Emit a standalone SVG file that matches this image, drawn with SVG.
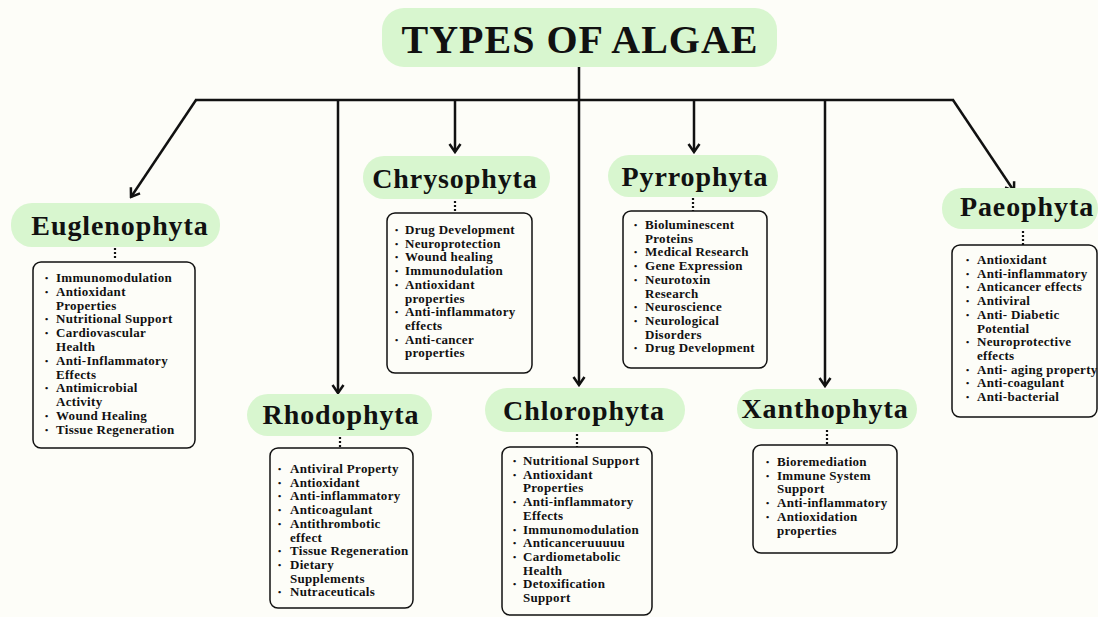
<svg xmlns="http://www.w3.org/2000/svg" width="1098" height="617" viewBox="0 0 1098 617">
<style>
.pill{fill:#d8f6cf;}
.ttl{font-family:"Liberation Serif",serif;font-weight:bold;font-size:40px;letter-spacing:1px;fill:#111;text-anchor:middle;}
.nm{font-family:"Liberation Serif",serif;font-weight:bold;font-size:28px;letter-spacing:0.9px;fill:#111;text-anchor:middle;}
.li{font-family:"Liberation Serif",serif;font-weight:bold;font-size:13px;letter-spacing:0.3px;fill:#111;}
.bu{font-family:"Liberation Serif",serif;font-weight:bold;font-size:9px;fill:#111;}
.box{fill:#fdfdf8;stroke:#111;stroke-width:1.5;}
.dots{stroke:#111;stroke-width:2.2;stroke-dasharray:2 2;fill:none;}
.ln{stroke:#111;stroke-width:2.5;fill:none;}
.ar{stroke:#111;stroke-width:2.5;fill:none;marker-end:url(#arr);}
</style>
<defs>
<marker id="arr" markerUnits="userSpaceOnUse" viewBox="-10 -7 12 14" markerWidth="12" markerHeight="14" refX="0" refY="0" orient="auto">
<path d="M-8,-5.5 L0,0 L-8,5.5" fill="none" stroke="#111" stroke-width="2.5"/>
</marker>
</defs>
<rect width="1098" height="617" fill="#fdfdf8"/>

<g id="connectors">
<line class="ln" x1="195" y1="100" x2="954" y2="100"/>
<line class="ar" x1="579" y1="66" x2="579" y2="385"/>
<line class="ar" x1="196" y1="100" x2="131" y2="197"/>
<line class="ar" x1="338" y1="100" x2="338" y2="393"/>
<line class="ar" x1="455" y1="100" x2="455" y2="152"/>
<line class="ar" x1="694" y1="100" x2="694" y2="152"/>
<line class="ar" x1="825" y1="100" x2="825" y2="386"/>
<line class="ar" x1="953" y1="100" x2="1014" y2="191"/>
</g>

<g id="title">
<rect class="pill" x="382" y="8" width="395" height="59" rx="22"/>
<text class="ttl" x="580" y="53">TYPES OF ALGAE</text>
</g>

<g id="euglenophyta">
<rect class="pill" x="11" y="203" width="209" height="44" rx="21"/>
<text class="nm" x="120" y="235">Euglenophyta</text>
<line class="dots" x1="115" y1="248" x2="115" y2="260"/>
<rect class="box" x="33" y="262" width="162" height="186" rx="8"/>
<text class="bu"><tspan x="45" y="281">•</tspan><tspan x="45" y="294.8">•</tspan><tspan x="45" y="322.4">•</tspan><tspan x="45" y="336.2">•</tspan><tspan x="45" y="363.8">•</tspan><tspan x="45" y="391.4">•</tspan><tspan x="45" y="419">•</tspan><tspan x="45" y="432.8">•</tspan></text>
<text class="li"><tspan x="56" y="282">Immunomodulation</tspan><tspan x="56" y="295.8">Antioxidant</tspan><tspan x="56" y="309.6">Properties</tspan><tspan x="56" y="323.4">Nutritional Support</tspan><tspan x="56" y="337.2">Cardiovascular</tspan><tspan x="56" y="351">Health</tspan><tspan x="56" y="364.8">Anti-Inflammatory</tspan><tspan x="56" y="378.6">Effects</tspan><tspan x="56" y="392.4">Antimicrobial</tspan><tspan x="56" y="406.2">Activity</tspan><tspan x="56" y="420">Wound Healing</tspan><tspan x="56" y="433.8">Tissue Regeneration</tspan></text>
</g>

<g id="chrysophyta">
<rect class="pill" x="363" y="156" width="187" height="43" rx="21"/>
<text class="nm" x="455" y="188">Chrysophyta</text>
<line class="dots" x1="455" y1="201" x2="455" y2="213"/>
<rect class="box" x="387" y="213" width="145" height="160" rx="8"/>
<text class="bu"><tspan x="395" y="233">•</tspan><tspan x="395" y="246.7">•</tspan><tspan x="395" y="260.4">•</tspan><tspan x="395" y="274.1">•</tspan><tspan x="395" y="287.8">•</tspan><tspan x="395" y="315.2">•</tspan><tspan x="395" y="342.6">•</tspan></text>
<text class="li"><tspan x="405" y="234">Drug Development</tspan><tspan x="405" y="247.7">Neuroprotection</tspan><tspan x="405" y="261.4">Wound healing</tspan><tspan x="405" y="275.1">Immunodulation</tspan><tspan x="405" y="288.8">Antioxidant</tspan><tspan x="405" y="302.5">properties</tspan><tspan x="405" y="316.2">Anti-inflammatory</tspan><tspan x="405" y="329.9">effects</tspan><tspan x="405" y="343.6">Anti-cancer</tspan><tspan x="405" y="357.3">properties</tspan></text>
</g>

<g id="pyrrophyta">
<rect class="pill" x="608" y="155" width="170" height="42" rx="21"/>
<text class="nm" x="695" y="186">Pyrrophyta</text>
<line class="dots" x1="693" y1="198" x2="693" y2="211"/>
<rect class="box" x="623" y="211" width="144" height="157" rx="8"/>
<text class="bu"><tspan x="634" y="228">•</tspan><tspan x="634" y="255.4">•</tspan><tspan x="634" y="269.1">•</tspan><tspan x="634" y="282.8">•</tspan><tspan x="634" y="310.2">•</tspan><tspan x="634" y="323.9">•</tspan><tspan x="634" y="351.3">•</tspan></text>
<text class="li"><tspan x="645" y="229">Bioluminescent</tspan><tspan x="645" y="242.7">Proteins</tspan><tspan x="645" y="256.4">Medical Research</tspan><tspan x="645" y="270.1">Gene Expression</tspan><tspan x="645" y="283.8">Neurotoxin</tspan><tspan x="645" y="297.5">Research</tspan><tspan x="645" y="311.2">Neuroscience</tspan><tspan x="645" y="324.9">Neurological</tspan><tspan x="645" y="338.6">Disorders</tspan><tspan x="645" y="352.3">Drug Development</tspan></text>
</g>

<g id="paeophyta">
<rect class="pill" x="942" y="188" width="156" height="41" rx="20"/>
<text class="nm" x="1027" y="216">Paeophyta</text>
<line class="dots" x1="1023" y1="231" x2="1023" y2="245"/>
<rect class="box" x="952" y="245" width="145" height="172" rx="8"/>
<text class="bu"><tspan x="966" y="263">•</tspan><tspan x="966" y="276.7">•</tspan><tspan x="966" y="290.4">•</tspan><tspan x="966" y="304.1">•</tspan><tspan x="966" y="317.8">•</tspan><tspan x="966" y="345.2">•</tspan><tspan x="966" y="372.6">•</tspan><tspan x="966" y="386.3">•</tspan><tspan x="966" y="400">•</tspan></text>
<text class="li"><tspan x="977" y="264">Antioxidant</tspan><tspan x="977" y="277.7">Anti-inflammatory</tspan><tspan x="977" y="291.4">Anticancer effects</tspan><tspan x="977" y="305.1">Antiviral</tspan><tspan x="977" y="318.8">Anti- Diabetic</tspan><tspan x="977" y="332.5">Potential</tspan><tspan x="977" y="346.2">Neuroprotective</tspan><tspan x="977" y="359.9">effects</tspan><tspan x="977" y="373.6">Anti- aging property</tspan><tspan x="977" y="387.3">Anti-coagulant</tspan><tspan x="977" y="401">Anti-bacterial</tspan></text>
</g>

<g id="rhodophyta">
<rect class="pill" x="247" y="394" width="185" height="42" rx="21"/>
<text class="nm" x="341" y="424">Rhodophyta</text>
<line class="dots" x1="340" y1="437" x2="340" y2="448"/>
<rect class="box" x="270" y="448" width="143" height="160" rx="8"/>
<text class="bu"><tspan x="278" y="472">•</tspan><tspan x="278" y="485.7">•</tspan><tspan x="278" y="499.4">•</tspan><tspan x="278" y="513.1">•</tspan><tspan x="278" y="526.8">•</tspan><tspan x="278" y="554.2">•</tspan><tspan x="278" y="567.9">•</tspan><tspan x="278" y="595.3">•</tspan></text>
<text class="li"><tspan x="290" y="473">Antiviral Property</tspan><tspan x="290" y="486.7">Antioxidant</tspan><tspan x="290" y="500.4">Anti-inflammatory</tspan><tspan x="290" y="514.1">Anticoagulant</tspan><tspan x="290" y="527.8">Antithrombotic</tspan><tspan x="290" y="541.5">effect</tspan><tspan x="290" y="555.2">Tissue Regeneration</tspan><tspan x="290" y="568.9">Dietary</tspan><tspan x="290" y="582.6">Supplements</tspan><tspan x="290" y="596.3">Nutraceuticals</tspan></text>
</g>

<g id="chlorophyta">
<rect class="pill" x="485" y="388" width="200" height="44" rx="22"/>
<text class="nm" x="584" y="420">Chlorophyta</text>
<line class="dots" x1="577" y1="434" x2="577" y2="447"/>
<rect class="box" x="502" y="447" width="150" height="168" rx="8"/>
<text class="bu"><tspan x="513" y="464">•</tspan><tspan x="513" y="477.7">•</tspan><tspan x="513" y="505.1">•</tspan><tspan x="513" y="532.5">•</tspan><tspan x="513" y="546.2">•</tspan><tspan x="513" y="559.9">•</tspan><tspan x="513" y="587.3">•</tspan></text>
<text class="li"><tspan x="523" y="465">Nutritional Support</tspan><tspan x="523" y="478.7">Antioxidant</tspan><tspan x="523" y="492.4">Properties</tspan><tspan x="523" y="506.1">Anti-inflammatory</tspan><tspan x="523" y="519.8">Effects</tspan><tspan x="523" y="533.5">Immunomodulation</tspan><tspan x="523" y="547.2">Anticanceruuuuu</tspan><tspan x="523" y="560.9">Cardiometabolic</tspan><tspan x="523" y="574.6">Health</tspan><tspan x="523" y="588.3">Detoxification</tspan><tspan x="523" y="602">Support</tspan></text>
</g>

<g id="xanthophyta">
<rect class="pill" x="737" y="389" width="180" height="40" rx="20"/>
<text class="nm" x="825" y="418">Xanthophyta</text>
<line class="dots" x1="827" y1="430" x2="827" y2="445"/>
<rect class="box" x="753" y="445" width="144" height="108" rx="8"/>
<text class="bu"><tspan x="766" y="465">•</tspan><tspan x="766" y="478.7">•</tspan><tspan x="766" y="506.1">•</tspan><tspan x="766" y="519.8">•</tspan></text>
<text class="li"><tspan x="777" y="466">Bioremediation</tspan><tspan x="777" y="479.7">Immune System</tspan><tspan x="777" y="493.4">Support</tspan><tspan x="777" y="507.1">Anti-inflammatory</tspan><tspan x="777" y="520.8">Antioxidation</tspan><tspan x="777" y="534.5">properties</tspan></text>
</g>
</svg>
